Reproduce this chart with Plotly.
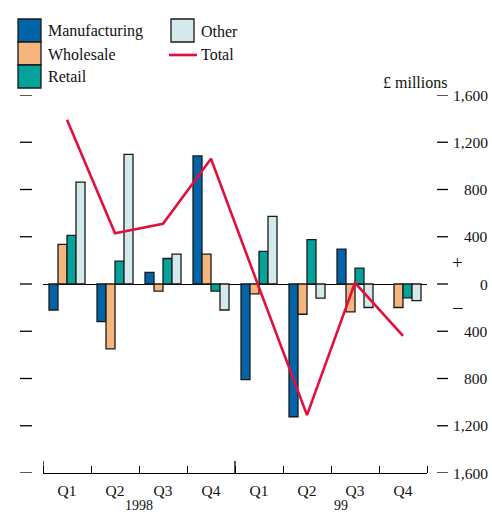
import plotly.graph_objects as go

quarters = ['Q1', 'Q2', 'Q3', 'Q4', 'Q1', 'Q2', 'Q3', 'Q4']
years = ['1998', '99']
series_names = ['Manufacturing', 'Wholesale', 'Retail', 'Other']
manufacturing = [-220, -318, 98, 1084, -810, -1124, 295, None]
wholesale = [335, -550, -61, 253, -83, -256, -236, -199]
retail = [411, 193, 216, -61, 276, 375, 134, -117]
other = [863, 1098, 253, -220, 572, -120, -199, -140]
total = [1390, 430, 510, 1060, -30, -1110, 10, -440]
y_ticks = [1600, 1200, 800, 400, 0, -400, -800, -1200, -1600]

colors = {
    'Manufacturing': '#0264A8',
    'Wholesale': '#F6B57C',
    'Retail': '#03A29B',
    'Other': '#D3E9EB',
    'Total': '#E1103D',
    'text': '#111111',
}
font_family = 'Liberation Serif'

W, H = 492, 512
L, R, T, B = 43, 427, 95, 473


def px(x):
    return (x - L) / (R - L)


def py(y):
    return (B - y) / (B - T)


x = list(range(len(quarters)))
fig = go.Figure()
for name, vals in zip(series_names, [manufacturing, wholesale, retail, other]):
    fig.add_trace(go.Bar(
        x=x, y=vals, name=name,
        marker=dict(color=colors[name], line=dict(color='#1a1a1a', width=1.3)),
        showlegend=False))

fig.add_trace(go.Scatter(
    x=x, y=total, name='Total', mode='lines',
    line=dict(color=colors['Total'], width=2.6), showlegend=False))

shapes = []
annotations = []

# y tick dashes left and right, labels on the right
for v in y_ticks:
    for x0, x1 in [(20, 32), (437, 448)]:
        shapes.append(dict(type='line', xref='paper', yref='y',
                           x0=px(x0), x1=px(x1), y0=v, y1=v,
                           line=dict(color='black', width=1.3)))
    annotations.append(dict(xref='paper', yref='y', x=px(490), y=v,
                            text=f'{abs(v):,}', showarrow=False,
                            xanchor='right', yanchor='middle',
                            font=dict(size=15.5)))

# taller ticks at the year boundaries
for xb in [-0.5, 3.5]:
    shapes.append(dict(type='line', xref='x', yref='paper',
                       x0=xb, x1=xb, y0=0, y1=py(461),
                       line=dict(color='black', width=1.3)))

# year labels, sitting low as in the original
for yr, xp in zip(years, [1.5, 5.7]):
    annotations.append(dict(xref='x', yref='paper', x=xp, y=py(505),
                            text=yr, showarrow=False, xanchor='center',
                            yanchor='middle', font=dict(size=14)))

annotations += [
    dict(xref='paper', yref='paper', x=px(449), y=py(83), text='£ millions',
         showarrow=False, xanchor='right', yanchor='middle', font=dict(size=16)),
    dict(xref='paper', yref='paper', x=px(457), y=py(262), text='+',
         showarrow=False, xanchor='center', yanchor='middle', font=dict(size=19)),
    dict(xref='paper', yref='paper', x=px(457), y=py(306), text='–',
         showarrow=False, xanchor='center', yanchor='middle', font=dict(size=19)),
]

# legend
legend_boxes = [('Manufacturing', 18, 19), ('Wholesale', 18, 42), ('Retail', 18, 65), ('Other', 171, 19)]
for name, bx, by in legend_boxes:
    shapes.append(dict(type='rect', xref='paper', yref='paper',
                       x0=px(bx), x1=px(bx + 23), y0=py(by), y1=py(by + 23),
                       fillcolor=colors[name], line=dict(color='#1a1a1a', width=1.3)))
    annotations.append(dict(xref='paper', yref='paper', x=px(bx + 28), y=py(by + 12),
                            text=name, showarrow=False, xanchor='left', yanchor='middle',
                            font=dict(size=16)))
shapes.append(dict(type='line', xref='paper', yref='paper',
                   x0=px(169), x1=px(197), y0=py(55), y1=py(55),
                   line=dict(color=colors['Total'], width=2.6)))
annotations.append(dict(xref='paper', yref='paper', x=px(199), y=py(54),
                        text='Total', showarrow=False, xanchor='left', yanchor='middle',
                        font=dict(size=16)))

fig.update_layout(
    width=W, height=H,
    margin=dict(l=L, r=W - R, t=T, b=H - B),
    paper_bgcolor='white', plot_bgcolor='white',
    font=dict(family=font_family, color=colors['text'], size=15.5),
    barmode='group', bargap=0.25, bargroupgap=0,
    shapes=shapes, annotations=annotations,
)
fig.update_xaxes(
    range=[-0.5, 7.5], tickvals=x, ticktext=quarters, ticks='',
    showline=True, linecolor='black', linewidth=1.3, showgrid=False,
    zeroline=False, tickfont=dict(size=15.5), ticklabelstandoff=3,
    minor=dict(tickvals=[i - 0.5 for i in range(len(quarters) + 1)],
               ticks='inside', ticklen=7, tickwidth=1.3, tickcolor='black'))
fig.update_yaxes(
    range=[-1600, 1600], showticklabels=False, showgrid=False,
    zeroline=True, zerolinecolor='black', zerolinewidth=1.3, showline=False)

# drop the default 8px page margin so the figure sits at the window corner
fig.write_html('out.html', config={'displayModeBar': False},
               post_script="document.body.style.margin='0';document.body.style.overflow='hidden';")
